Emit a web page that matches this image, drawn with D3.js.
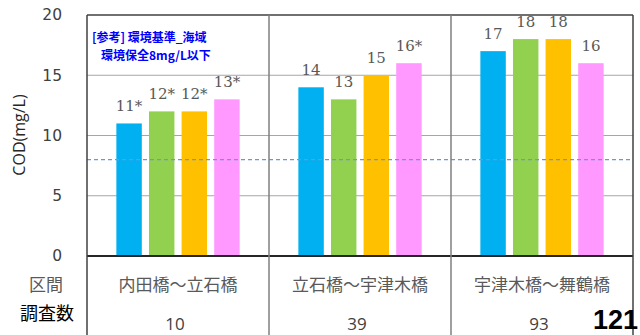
<!DOCTYPE html>
<html><head><meta charset="utf-8">
<script src="https://cdn.jsdelivr.net/npm/d3@7"></script>
<style>body{margin:0;background:#fff}svg{display:block}</style>
</head><body>
<svg id="c" width="640" height="335"></svg>
<script>
const categories = ["内田橋～立石橋", "立石橋～宇津木橋", "宇津木橋～舞鶴橋"];
const counts = ["10", "39", "93"];
const series = ["s1", "s2", "s3", "s4"];
const values = [[11, 12, 12, 13], [14, 13, 15, 16], [17, 18, 18, 16]];
const labels = [["11*", "12*", "12*", "13*"], ["14", "13", "15", "16*"], ["17", "18", "18", "16"]];
const colors = ["#00b0f0", "#92d050", "#ffc000", "#ff99ff"];
const yTicks = [0, 5, 10, 15, 20];
const standard = 8;
const total = "121";

const svg = d3.select("#c");
const L = 87, R = 633, T = 15, B = 256;
const x = d3.scaleBand().domain(categories).range([L, R]).padding(0);
const xi = d3.scaleBand().domain(series).range([0, x.bandwidth()]).paddingInner(0.22).paddingOuter(0.9);
const y = d3.scaleLinear().domain([0, 20]).range([B, T]);

// gridlines
svg.append("g").selectAll("line").data(yTicks.filter(t => t > 0 && t < 20)).join("line")
  .attr("x1", L).attr("x2", R).attr("y1", d => y(d)).attr("y2", d => y(d))
  .attr("stroke", "#a6a6a6").attr("stroke-width", 1);

// bars
const g = svg.append("g").selectAll("g").data(categories).join("g")
  .attr("transform", d => `translate(${x(d)},0)`);
g.selectAll("rect").data((d, i) => values[i].map((v, j) => ({v, j}))).join("rect")
  .attr("x", d => xi(series[d.j])).attr("width", xi.bandwidth())
  .attr("y", d => y(d.v)).attr("height", d => B - y(d.v))
  .attr("fill", d => colors[d.j]);

// standard line
svg.append("line").attr("x1", L).attr("x2", R - 3).attr("y1", y(standard)).attr("y2", y(standard))
  .attr("stroke", "#6f95d8").attr("stroke-width", 1.2).attr("stroke-dasharray", "4,3");

// frame
svg.append("line").attr("x1", L).attr("x2", R).attr("y1", T).attr("y2", T).attr("stroke", "#404040").attr("stroke-width", 1.5);
svg.append("line").attr("x1", L).attr("x2", R).attr("y1", B).attr("y2", B).attr("stroke", "#262626").attr("stroke-width", 2);
svg.append("g").selectAll("line").data([L, x(categories[1]), x(categories[2]), R]).join("line")
  .attr("x1", d => d).attr("x2", d => d).attr("y1", T).attr("y2", 335)
  .attr("stroke", (d, i) => (i === 0 || i === 3) ? "#404040" : "#7f7f7f").attr("stroke-width", 1.5);

// value labels
g.selectAll("text").data((d, i) => values[i].map((v, j) => ({v, j, t: labels[i][j]}))).join("text")
  .attr("x", d => xi(series[d.j]) + xi.bandwidth() / 2)
  .attr("y", d => y(d.v) - 12)
  .attr("text-anchor", "middle")
  .attr("font-family", "DejaVu Serif, Liberation Serif, serif").attr("font-size", 15)
  .attr("fill", "#595959")
  .text(d => d.t);

// y axis labels
const ya = svg.append("g").attr("transform", `translate(62,0)`)
  .call(d3.axisLeft(y).tickValues(yTicks).tickSize(0).tickPadding(0).tickFormat(d3.format("d")));
ya.select(".domain").remove();
ya.selectAll("text").attr("font-family", "DejaVu Sans, sans-serif").attr("font-size", 15.5).attr("fill", "#404040");

svg.append("text").attr("transform", "translate(25,135) rotate(-90)")
  .attr("text-anchor", "middle").attr("font-family", "Open Sans, sans-serif").attr("font-size", 16)
  .attr("fill", "#262626").text("COD(mg/L)");

// annotation
const ann = svg.append("text").attr("font-family", "Noto Sans CJK JP, sans-serif").attr("font-size", 12)
  .attr("font-weight", "bold").attr("fill", "#0000ff");
ann.append("tspan").attr("x", 92).attr("y", 42).text("[参考] 環境基準_海域");
ann.append("tspan").attr("x", 101).attr("y", 60).text("環境保全8mg/L以下");

// table
svg.append("g").selectAll("text").data(categories).join("text")
  .attr("x", d => x(d) + x.bandwidth() / 2).attr("y", 291)
  .attr("text-anchor", "middle").attr("font-family", "Noto Sans CJK JP, sans-serif").attr("font-size", 17)
  .attr("fill", "#595959").text(d => d);
svg.append("g").selectAll("text").data(categories).join("text")
  .attr("x", (d, i) => x(d) + x.bandwidth() / 2 - 3).attr("y", 330)
  .attr("text-anchor", "middle").attr("font-family", "Open Sans, sans-serif").attr("font-size", 17)
  .attr("fill", "#404040").text((d, i) => counts[i]);
svg.append("text").attr("x", 46).attr("y", 291).attr("text-anchor", "middle")
  .attr("font-family", "Noto Sans CJK JP, sans-serif").attr("font-size", 17).attr("fill", "#595959").text("区間");
svg.append("text").attr("x", 47).attr("y", 320).attr("text-anchor", "middle")
  .attr("font-family", "Noto Sans CJK JP, sans-serif").attr("font-size", 18).attr("fill", "#000").text("調査数");
svg.append("text").attr("x", 638).attr("y", 329).attr("text-anchor", "end")
  .attr("font-family", "Liberation Sans, Arial, sans-serif").attr("font-size", 27).attr("font-weight", "bold")
  .attr("fill", "#000").text(total);
</script>
</body></html>
